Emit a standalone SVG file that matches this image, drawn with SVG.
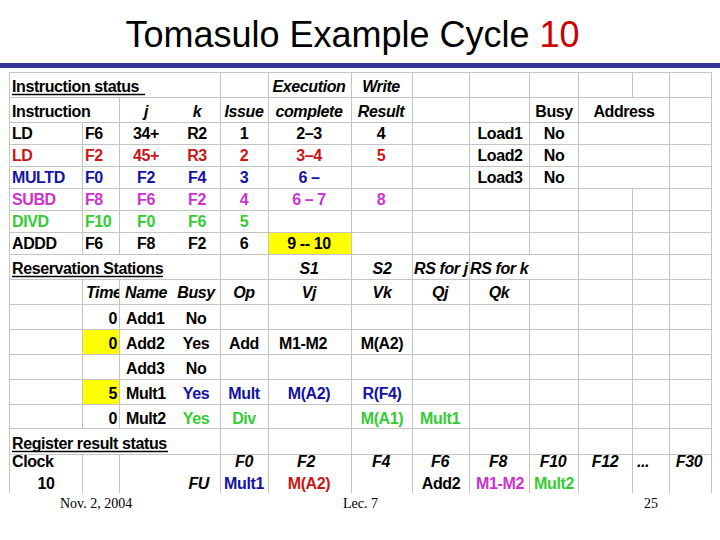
<svg xmlns="http://www.w3.org/2000/svg" width="720" height="540" viewBox="0 0 720 540">
<defs>
<style>
.t{font-family:"Liberation Sans",Arial,sans-serif;font-weight:bold;font-size:16px;letter-spacing:-0.4px;fill:#000}
.i{font-style:italic}
.m{text-anchor:middle}
.e{text-anchor:end}
.r{fill:#cc1515}
.b{fill:#1212a4}
.p{fill:#cc33cc}
.g{fill:#33cc33}
.grid{stroke:#c4c4c4;stroke-width:1;fill:none}
.ul{stroke:#000;stroke-width:1.5}
.hl{fill:#ffff00}
.foot{font-family:"Liberation Serif","Times New Roman",serif;font-size:14px;fill:#000}
</style>
<clipPath id="timeClip"><rect x="82" y="279" width="37" height="25"/></clipPath>
</defs>
<rect width="720" height="540" fill="#fff"/>
<g id="title">
<text x="352.5" y="47" font-family="Liberation Sans,Arial,sans-serif" font-size="36" text-anchor="middle" fill="#000">Tomasulo Example Cycle <tspan fill="#cc0000">10</tspan></text>
<rect x="0" y="63" width="720" height="5" fill="#333399"/>
</g>
<g id="highlights">
<rect class="hl" x="268" y="232" width="83" height="22"/>
<rect class="hl" x="82" y="329" width="37" height="25"/>
<rect class="hl" x="82" y="379" width="37" height="25"/>
</g>
<g id="grid">
<path class="grid" d="M9 72.5H711M9 97.5H711M9 122.5H711M9 144.5H711M9 166.5H711M9 188.5H711M9 210.5H711M9 232.5H711M9 254.5H711M9 279.5H711M9 304.5H711M9 329.5H711M9 354.5H711M9 379.5H711M9 404.5H711M9 428.5H711M9 454.5H711"/>
<path class="grid" d="M9.5 72V493M82.5 122V254M82.5 279V428M82.5 454V493M119.5 97V254M119.5 279V428M119.5 454V493M220.5 72V493M268.5 72V493M351.5 72V493M412.5 72V493M469.5 72V493M529.5 72V254M529.5 279V493M578.5 72V493M632.5 72V97M632.5 188V493M669.5 72V493M711.5 72V493"/>
</g>
<g id="instruction-status">
<text class="t" x="12" y="92">Instruction status</text>
<line class="ul" x1="12" y1="94.5" x2="145" y2="94.5"/>
<text class="t i m" x="309" y="92">Execution</text>
<text class="t i m" x="381" y="92">Write</text>
<text class="t" x="12" y="117">Instruction</text>
<text class="t i m" x="146" y="117">j</text>
<text class="t i m" x="197" y="117">k</text>
<text class="t i m" x="244" y="117">Issue</text>
<text class="t i m" x="309" y="117">complete</text>
<text class="t i m" x="381" y="117">Result</text>
<text class="t m" x="554" y="117">Busy</text>
<text class="t m" x="624" y="117">Address</text>
<g>
<text class="t" x="12" y="139">LD</text><text class="t" x="85" y="139">F6</text><text class="t m" x="146" y="139">34+</text><text class="t m" x="197" y="139">R2</text><text class="t m" x="244" y="139">1</text><text class="t m" x="309" y="139">2–3</text><text class="t m" x="381" y="139">4</text>
</g>
<g>
<text class="t r" x="12" y="161">LD</text><text class="t r" x="85" y="161">F2</text><text class="t m r" x="146" y="161">45+</text><text class="t m r" x="197" y="161">R3</text><text class="t m r" x="244" y="161">2</text><text class="t m r" x="309" y="161">3–4</text><text class="t m r" x="381" y="161">5</text>
</g>
<g>
<text class="t b" x="12" y="183">MULTD</text><text class="t b" x="85" y="183">F0</text><text class="t m b" x="146" y="183">F2</text><text class="t m b" x="197" y="183">F4</text><text class="t m b" x="244" y="183">3</text><text class="t m b" x="309" y="183">6 –</text>
</g>
<g>
<text class="t p" x="12" y="205">SUBD</text><text class="t p" x="85" y="205">F8</text><text class="t m p" x="146" y="205">F6</text><text class="t m p" x="197" y="205">F2</text><text class="t m p" x="244" y="205">4</text><text class="t m p" x="309" y="205">6 – 7</text><text class="t m p" x="381" y="205">8</text>
</g>
<g>
<text class="t g" x="12" y="227">DIVD</text><text class="t g" x="85" y="227">F10</text><text class="t m g" x="146" y="227">F0</text><text class="t m g" x="197" y="227">F6</text><text class="t m g" x="244" y="227">5</text>
</g>
<g>
<text class="t" x="12" y="249">ADDD</text><text class="t" x="85" y="249">F6</text><text class="t m" x="146" y="249">F8</text><text class="t m" x="197" y="249">F2</text><text class="t m" x="244" y="249">6</text><text class="t m" x="309" y="249">9 -- 10</text>
</g>
</g>
<g id="load-buffers">
<text class="t m" x="500" y="139">Load1</text><text class="t m" x="554" y="139">No</text>
<text class="t m" x="500" y="161">Load2</text><text class="t m" x="554" y="161">No</text>
<text class="t m" x="500" y="183">Load3</text><text class="t m" x="554" y="183">No</text>
</g>
<g id="reservation-stations">
<text class="t" x="12" y="274">Reservation Stations</text>
<line class="ul" x1="12" y1="276.5" x2="163" y2="276.5"/>
<text class="t i m" x="309" y="274">S1</text>
<text class="t i m" x="382" y="274">S2</text>
<text class="t i" x="414" y="274">RS for j</text>
<text class="t i" x="470" y="274">RS for k</text>
<text class="t i" x="86" y="298" clip-path="url(#timeClip)">Time</text>
<text class="t i" x="125" y="298">Name</text>
<text class="t i m" x="196" y="298">Busy</text>
<text class="t i m" x="244" y="298">Op</text>
<text class="t i m" x="309" y="298">Vj</text>
<text class="t i m" x="382" y="298">Vk</text>
<text class="t i m" x="440" y="298">Qj</text>
<text class="t i m" x="499" y="298">Qk</text>
<g>
<text class="t e" x="117" y="324">0</text><text class="t" x="126" y="324">Add1</text><text class="t m" x="196" y="324">No</text>
</g>
<g>
<text class="t e" x="117" y="349">0</text><text class="t" x="126" y="349">Add2</text><text class="t m" x="196" y="349">Yes</text><text class="t m" x="244" y="349">Add</text><text class="t m" x="303" y="349">M1-M2</text><text class="t m" x="382" y="349">M(A2)</text>
</g>
<g>
<text class="t" x="126" y="374">Add3</text><text class="t m" x="196" y="374">No</text>
</g>
<g>
<text class="t e" x="117" y="399">5</text><text class="t" x="126" y="399">Mult1</text><text class="t m b" x="196" y="399">Yes</text><text class="t m b" x="244" y="399">Mult</text><text class="t m b" x="309" y="399">M(A2)</text><text class="t m b" x="382" y="399">R(F4)</text>
</g>
<g>
<text class="t e" x="117" y="424">0</text><text class="t" x="126" y="424">Mult2</text><text class="t m g" x="196" y="424">Yes</text><text class="t m g" x="244" y="424">Div</text><text class="t m g" x="382" y="424">M(A1)</text><text class="t m g" x="440" y="424">Mult1</text>
</g>
</g>
<g id="register-result-status">
<text class="t" x="12" y="449">Register result status</text>
<line class="ul" x1="12" y1="451.5" x2="168" y2="451.5"/>
<text class="t" x="12" y="467">Clock</text>
<text class="t i m" x="244" y="467">F0</text>
<text class="t i m" x="306" y="467">F2</text>
<text class="t i m" x="381" y="467">F4</text>
<text class="t i m" x="440" y="467">F6</text>
<text class="t i m" x="498" y="467">F8</text>
<text class="t i m" x="553" y="467">F10</text>
<text class="t i m" x="605" y="467">F12</text>
<text class="t i m" x="643" y="467">...</text>
<text class="t i m" x="689" y="467">F30</text>
<text class="t m" x="46" y="489">10</text>
<text class="t i e" x="209" y="489">FU</text>
<text class="t m b" x="244" y="489">Mult1</text>
<text class="t m r" x="309" y="489">M(A2)</text>
<text class="t m" x="441" y="489">Add2</text>
<text class="t m p" x="500" y="489">M1-M2</text>
<text class="t m g" x="554" y="489">Mult2</text>
</g>
<g id="footer">
<text class="foot" x="60" y="508">Nov. 2, 2004</text>
<text class="foot" x="343" y="508">Lec. 7</text>
<text class="foot" x="644" y="508">25</text>
</g>
</svg>
